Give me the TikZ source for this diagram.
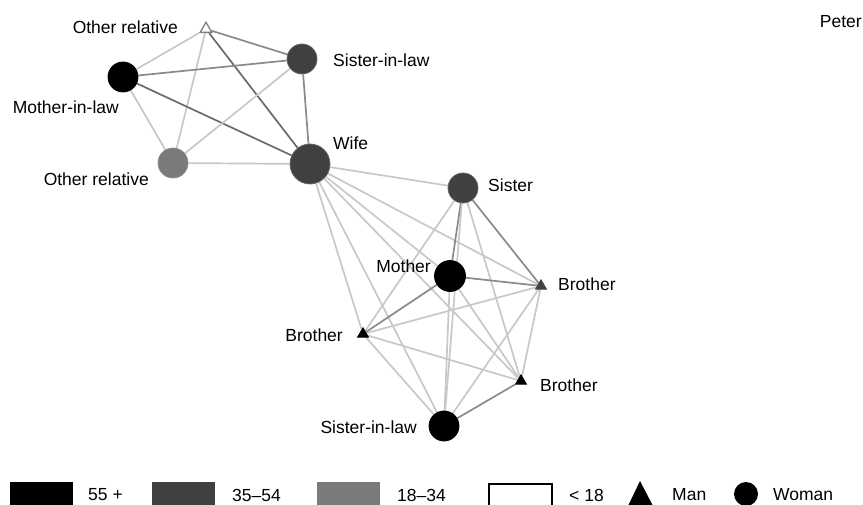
\documentclass[tikz,border=0pt]{standalone}
\usepackage{fontspec}
\setmainfont{Liberation Sans}
\usetikzlibrary{shapes.geometric,backgrounds}
\definecolor{agedark}{HTML}{404040}
\definecolor{agemid}{HTML}{7A7A7A}
\definecolor{elight}{HTML}{C8C8C8}
\definecolor{emed}{HTML}{8A8A8A}
\definecolor{edark}{HTML}{6A6A6A}
\begin{document}
\begin{tikzpicture}[x=1pt,y=-1pt,
  every node/.style={font=\fontsize{17.5}{20}\selectfont},
  lbl/.style={inner sep=0pt},
  woman/.style={circle,inner sep=0pt,line width=0.8pt},
  man/.style={regular polygon,regular polygon sides=3,inner sep=0pt,minimum size=12.5pt,line width=0.8pt},
  lt/.style={draw=elight,line width=1.7pt},
  md/.style={draw=emed,line width=1.7pt},
  dk/.style={draw=edark,line width=1.7pt},
  legbox/.style={inner sep=0pt,minimum width=63pt,minimum height=23pt}
  ]
\useasboundingbox (0,0) rectangle (863,505);
% nodes
\node[man,fill=white,draw=gray,line width=1.3pt,minimum size=13.5pt] (ort) at (206,29) {};
\node[woman,fill=agedark,draw=agedark!80!white,minimum size=30pt] (silt) at (302,59) {};
\node[woman,fill=black,draw=black,minimum size=30pt] (mil) at (123,77) {};
\node[woman,fill=agemid,draw=agemid!85!white,minimum size=30pt] (orc) at (173,163) {};
\node[woman,fill=agedark,draw=agedark!80!white,minimum size=40pt] (wife) at (310,164) {};
\node[woman,fill=agedark,draw=agedark!80!white,minimum size=30pt] (sister) at (463,188) {};
\node[woman,fill=black,draw=black,minimum size=31pt] (mother) at (450,276) {};
\node[man,fill=agedark,draw=agedark] (brr) at (541,286) {};
\node[man,fill=black,draw=black] (brl) at (363,334) {};
\node[man,fill=black,draw=black] (brb) at (521,381) {};
\node[woman,fill=black,draw=black,minimum size=30pt] (silb) at (444,426) {};
% labels
\node[lbl,anchor=east] (lort) at (178,27) {Other relative};
\node[lbl,anchor=west] (lsilt) at (333,60) {Sister-in-law};
\node[lbl,anchor=east] (lmil) at (119,107) {Mother-in-law};
\node[lbl,anchor=east] (lorc) at (149,179) {Other relative};
\node[lbl,anchor=west] (lwife) at (333,143) {Wife};
\node[lbl,anchor=west] (lsister) at (488,185) {Sister};
\node[lbl,anchor=east] (lmother) at (431,266) {Mother};
\node[lbl,anchor=west] (lbrr) at (558,284) {Brother};
\node[lbl,anchor=east] (lbrl) at (343,335) {Brother};
\node[lbl,anchor=west] (lbrb) at (540,385) {Brother};
\node[lbl,anchor=east] (lsilb) at (417,427) {Sister-in-law};
\node[lbl,anchor=east] (peter) at (862,22) {Peter};
% edges
\begin{scope}[on background layer]
\draw[lt] (ort) -- (mil);
\draw[lt] (ort) -- (orc);
\draw[md] (ort) -- (silt);
\draw[dk] (ort) -- (wife);
\draw[md] (mil) -- (silt);
\draw[dk] (mil) -- (wife);
\draw[lt] (mil) -- (orc);
\draw[md] (silt) -- (wife);
\draw[lt] (silt) -- (orc);
\draw[lt] (orc) -- (wife);
\draw[lt] (wife) -- (sister);
\draw[lt] (wife) -- (mother);
\draw[lt] (wife) -- (brr);
\draw[lt] (wife) -- (brl);
\draw[lt] (wife) -- (brb);
\draw[lt] (wife) -- (silb);
\draw[md] (sister) -- (mother);
\draw[md] (sister) -- (brr);
\draw[lt] (sister) -- (brl);
\draw[lt] (sister) -- (brb);
\draw[lt] (sister) -- (silb);
\draw[md] (mother) -- (brr);
\draw[md] (mother) -- (brl);
\draw[lt] (mother) -- (silb);
\draw[lt] (mother) -- (brb);
\draw[lt] (brr) -- (brl);
\draw[lt] (brr) -- (brb);
\draw[lt] (brr) -- (silb);
\draw[lt] (brl) -- (brb);
\draw[lt] (brl) -- (silb);
\draw[md] (brb) -- (silb);
\end{scope}
% legend
\node[legbox,fill=black,anchor=north west] (k1) at (10,482) {};
\node[lbl,anchor=west] (t1) at (88,495) {55 +};
\node[legbox,fill=agedark,anchor=north west] (k2) at (152,482) {};
\node[lbl,anchor=west] (t2) at (232,495) {35–54};
\node[legbox,fill=agemid,anchor=north west] (k3) at (317,482) {};
\node[lbl,anchor=west] (t3) at (397,495) {18–34};
\node[legbox,draw=black,line width=1.8pt,minimum width=63pt,minimum height=22pt,anchor=north west] (k4) at (488,483) {};
\node[lbl,anchor=west] (t4) at (569,495) {< 18};
\fill (628,506) -- (640,481) -- (653,506) -- cycle;
\node[lbl,anchor=west] (t5) at (672,495) {Man};
\node[circle,fill=black,inner sep=0pt,minimum size=24pt] (k6) at (746,494) {};
\node[lbl,anchor=west] (t6) at (773,495) {Woman};
\end{tikzpicture}
\end{document}
